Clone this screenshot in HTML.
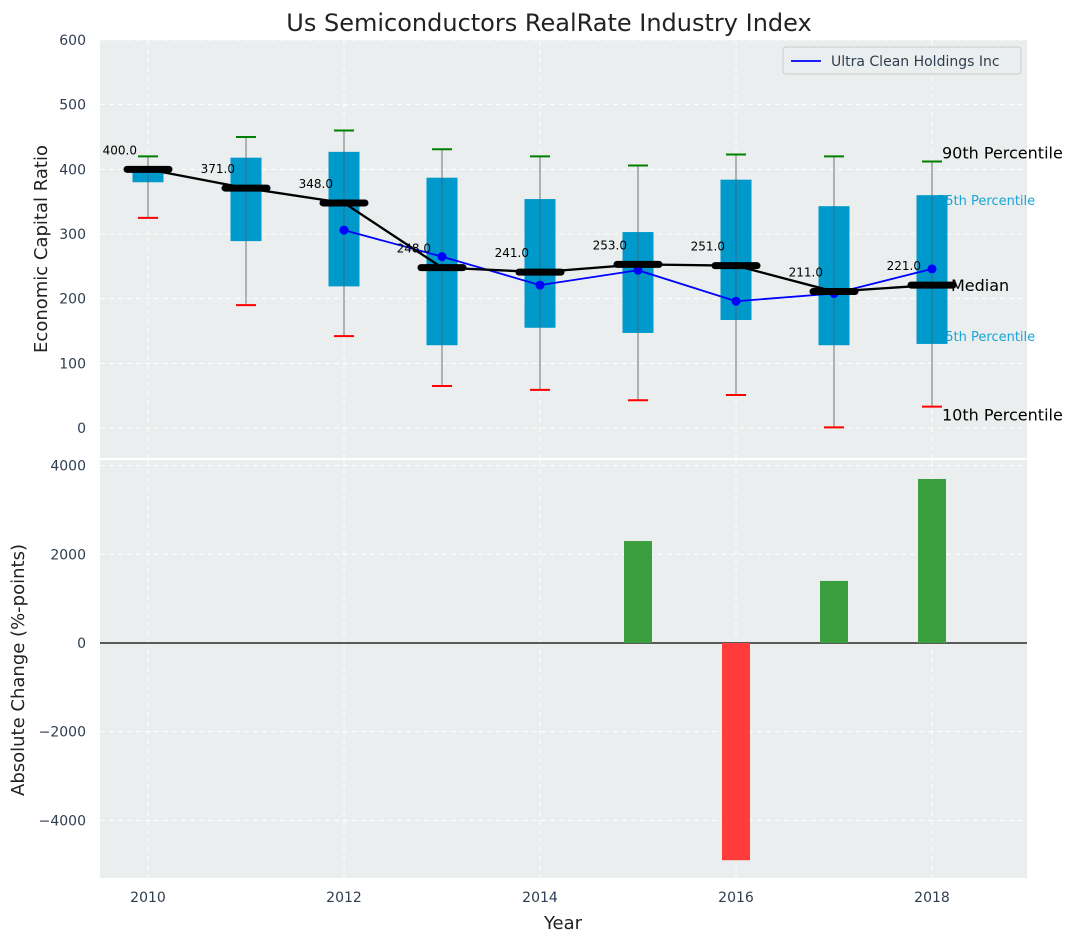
<!DOCTYPE html>
<html><head><meta charset="utf-8"><style>
body{margin:0;background:#fff;font-family:"Liberation Sans","DejaVu Sans",sans-serif}
svg text{font-family:"DejaVu Sans","Liberation Sans",sans-serif}
</style></head><body>
<svg id="c" width="1077" height="942" xmlns="http://www.w3.org/2000/svg"></svg>
<script>
const years=[2010,2011,2012,2013,2014,2015,2016,2017,2018];
const p10=[325,190,142,65,59,43,51,1,33];
const p25=[380,289,219,128,155,147,167,128,130];
const med=[400,371,348,248,241,253,251,211,221];
const p75=[405,418,427,387,354,303,384,343,360];
const p90=[420,450,460,431,420,406,423,420,412];
const compYears=[2012,2013,2014,2015,2016,2017,2018];
const compVals=[306,265,221,244,196,208,246];
const barYears=[2015,2016,2017,2018];
const barVals=[2300,-4900,1400,3700];
const topTicks=[0,100,200,300,400,500,600];
const botTicks=[-4000,-2000,0,2000,4000];
const xTicks=[2010,2012,2014,2016,2018];

const NS="http://www.w3.org/2000/svg",svg=document.getElementById('c');
function el(t,a,txt){const e=document.createElementNS(NS,t);for(const k in a)e.setAttribute(k,a[k]);if(txt!==undefined)e.textContent=txt;svg.appendChild(e);return e;}
const X=y=>148+(y-2010)*98;
const YT=v=>428-v*0.6467;
const YB=v=>643-v*0.04433;
const L=100,R=1027;

let e;
e=el('rect',{x:L,y:40,width:R-L,height:418,fill:'#eaeeee'});

e=el('rect',{x:L,y:460,width:R-L,height:418,fill:'#eaeeee'});


topTicks.forEach(t=>{el('line',{x1:L,x2:R,y1:YT(t),y2:YT(t),stroke:'#fff','stroke-dasharray':'5,4','stroke-width':1});
e=el('text',{x:86,y:YT(t)+5,'text-anchor':'end','font-size':14,fill:'#2e3e50'},t);
});
botTicks.forEach(t=>{el('line',{x1:L,x2:R,y1:YB(t),y2:YB(t),stroke:'#fff','stroke-dasharray':'5,4','stroke-width':1});
e=el('text',{x:86,y:YB(t)+5,'text-anchor':'end','font-size':14,fill:'#2e3e50'},t<0?'\u2212'+(-t):t);
});
xTicks.forEach(t=>{el('line',{x1:X(t),x2:X(t),y1:40,y2:458,stroke:'#fff','stroke-dasharray':'5,4'});
el('line',{x1:X(t),x2:X(t),y1:460,y2:878,stroke:'#fff','stroke-dasharray':'5,4'});
e=el('text',{x:X(t),y:902,'text-anchor':'middle','font-size':14,fill:'#2e3e50'},t);
});

const lx=X(2018)+10;
e=el('text',{x:lx,y:YT(p90[8])-3,'font-size':16,fill:'#000'},'90th Percentile');
e=el('text',{x:lx-5,y:YT(p75[8])+10,'font-size':13,fill:'#1aa3d6'},'75th Percentile');
e=el('text',{x:lx-5,y:YT(p25[8])-3,'font-size':13,fill:'#1aa3d6'},'25th Percentile');
e=el('text',{x:lx,y:YT(p10[8])+14,'font-size':16,fill:'#000'},'10th Percentile');

years.forEach((y,i)=>{const x=X(y);
e=el('line',{x1:x,x2:x,y1:YT(p90[i]),y2:YT(p10[i]),stroke:'#888','stroke-width':1.2});
e=el('rect',{x:x-15.5,y:YT(p75[i]),width:31,height:YT(p25[i])-YT(p75[i]),fill:'#0099cc'});
el('line',{x1:x,x2:x,y1:YT(p75[i]),y2:YT(p25[i]),stroke:'#555','stroke-opacity':0.6,'stroke-width':1});
e=el('line',{x1:x-10,x2:x+10,y1:YT(p90[i]),y2:YT(p90[i]),stroke:'green','stroke-width':2});
e=el('line',{x1:x-10,x2:x+10,y1:YT(p10[i]),y2:YT(p10[i]),stroke:'red','stroke-width':2});
});
e=el('polyline',{points:compYears.map((y,i)=>X(y)+','+YT(compVals[i])).join(' '),fill:'none',stroke:'blue','stroke-width':1.8});

compYears.forEach((y,i)=>{e=el('circle',{cx:X(y),cy:YT(compVals[i]),r:4.5,fill:'blue'});});
e=el('polyline',{points:years.map((y,i)=>X(y)+','+YT(med[i])).join(' '),fill:'none',stroke:'#000','stroke-width':2.3});

years.forEach((y,i)=>{const x=X(y);
e=el('line',{x1:x-21,x2:x+21,y1:YT(med[i]),y2:YT(med[i]),stroke:'#000','stroke-width':7,'stroke-linecap':'round'});
e=el('text',{x:x-11,y:YT(med[i])-15,'text-anchor':'end','font-size':12,fill:'#000'},med[i].toFixed(1));
});
e=el('text',{x:lx+9,y:YT(med[8])+6,'font-size':16,fill:'#000'},'Median');

el('line',{x1:L,x2:R,y1:YB(0),y2:YB(0),stroke:'#000','stroke-width':1.2});
barYears.forEach((y,i)=>{const v=barVals[i];
e=el('rect',{x:X(y)-14,y:Math.min(YB(v),YB(0)),width:28,height:Math.abs(YB(v)-YB(0)),fill:v>=0?'#3a9d3e':'#ff3b3b'});
});

e=el('rect',{x:783,y:47,width:238,height:27,rx:3,fill:'#eaeeee',stroke:'#ccc'});
el('line',{x1:791,x2:821,y1:61,y2:61,stroke:'blue','stroke-width':1.8});
e=el('text',{x:831,y:66,'font-size':14,fill:'#2e3e50'},'Ultra Clean Holdings Inc');

e=el('text',{x:549,y:31,'text-anchor':'middle','font-size':24,fill:'#222'},'Us Semiconductors RealRate Industry Index');
e=el('text',{x:563,y:929,'text-anchor':'middle','font-size':18,fill:'#222'},'Year');
e=el('text',{x:47,y:249,'text-anchor':'middle','font-size':18,fill:'#222',transform:'rotate(-90 47 249)'},'Economic Capital Ratio');
e=el('text',{x:24,y:670,'text-anchor':'middle','font-size':18,fill:'#222',transform:'rotate(-90 24 670)'},'Absolute Change (%-points)');
</script>
</body></html>
